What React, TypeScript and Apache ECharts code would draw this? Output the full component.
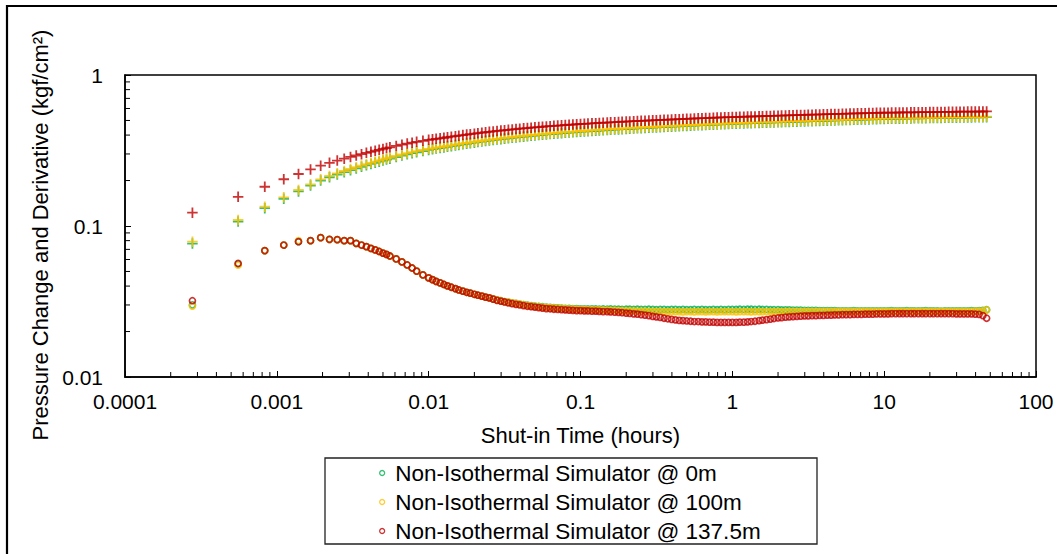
import React, { useEffect, useRef } from 'react';
import * as echarts from 'echarts';

const FONT = "'Liberation Sans', Arial, Helvetica, sans-serif";
const COLORS = ['#00B050', '#FFC000', '#C00000'];
const SERIES_NAMES = [
  'Non-Isothermal Simulator @ 0m',
  'Non-Isothermal Simulator @ 100m',
  'Non-Isothermal Simulator @ 137.5m',
];
const X_TICK_LABELS = ['0.0001', '0.001', '0.01', '0.1', '1', '10', '100'];
const Y_TICK_LABELS = ['0.01', '0.1', '1'];
const X_MIN = 0.0001;
const X_MAX = 100;
const Y_MIN = 0.01;
const Y_MAX = 1;

// Shut-in time (hours)
const TIME_H = [
  // 1 s ... 36 s
  0.000278, 0.000556, 0.000833, 0.001111, 0.001389, 0.001667, 0.001944, 0.002222, 0.0025, 0.002778,
  0.003056, 0.003333, 0.003611, 0.003889, 0.004167, 0.004444, 0.004722, 0.005, 0.005278, 0.005556,
  0.006111, 0.006667, 0.007222, 0.007778, 0.008333, 0.009167, 0.01,
  // 0.01 - 0.1 h
  0.0106, 0.0112, 0.0119, 0.0126, 0.0133, 0.0141, 0.015, 0.0158, 0.0168, 0.0178, 0.0188, 0.02, 0.0211,
  0.0224, 0.0237, 0.0251, 0.0266, 0.0282, 0.0299, 0.0316, 0.0335, 0.0355, 0.0376, 0.0398, 0.0422, 0.0447,
  0.0473, 0.0501, 0.0531, 0.0562, 0.0596, 0.0631, 0.0668, 0.0708, 0.075, 0.0794, 0.0841, 0.0891, 0.0944,
  // 0.1 - 1 h
  0.1, 0.106, 0.112, 0.119, 0.126, 0.133, 0.141, 0.15, 0.158, 0.168, 0.178, 0.188, 0.2, 0.211, 0.224,
  0.237, 0.251, 0.266, 0.282, 0.299, 0.316, 0.335, 0.355, 0.376, 0.398, 0.422, 0.447, 0.473, 0.501, 0.531,
  0.562, 0.596, 0.631, 0.668, 0.708, 0.75, 0.794, 0.841, 0.891, 0.944,
  // 1 - 10 h
  1, 1.06, 1.12, 1.19, 1.26, 1.33, 1.41, 1.5, 1.58, 1.68, 1.78, 1.88, 2, 2.11, 2.24,
  2.37, 2.51, 2.66, 2.82, 2.99, 3.16, 3.35, 3.55, 3.76, 3.98, 4.22, 4.47, 4.73, 5.01, 5.31,
  5.62, 5.96, 6.31, 6.68, 7.08, 7.5, 7.94, 8.41, 8.91, 9.44,
  // 10 - 48 h
  10, 10.6, 11.2, 11.9, 12.6, 13.3, 14.1, 15, 15.8, 16.8, 17.8, 18.8, 20, 21.1, 22.4,
  23.7, 25.1, 26.6, 28.2, 29.9, 31.6, 33.5, 35.5, 37.6, 39.8, 42.2, 44.7, 47.3,
];

// Pressure change (kgf/cm2)
const DP_0M = [
  0.0765, 0.107, 0.1312, 0.1515, 0.1695, 0.1852, 0.2, 0.2103, 0.2193, 0.2271,
  0.2342, 0.2407, 0.2467, 0.2524, 0.2575, 0.2623, 0.2668, 0.2713, 0.2755, 0.2793,
  0.2862, 0.2925, 0.2983, 0.3035, 0.3078, 0.3134, 0.3188,
  0.3225, 0.3255, 0.3285, 0.3315, 0.3346, 0.3378, 0.341, 0.3442, 0.3475, 0.3506, 0.3534, 0.3565, 0.3596,
  0.3625, 0.3652, 0.3679, 0.3707, 0.3735, 0.3761, 0.3785, 0.3809, 0.3838, 0.3862, 0.3885, 0.3907, 0.3929,
  0.3953, 0.3976, 0.3998, 0.4018, 0.4038, 0.406, 0.408, 0.4099, 0.4118, 0.4139, 0.4158, 0.4174, 0.4193,
  0.4211, 0.4227, 0.4242, 0.4258, 0.4273, 0.4288, 0.4303, 0.4318, 0.4333, 0.4348, 0.4362, 0.4376, 0.439,
  0.4404, 0.4418, 0.4432, 0.4446, 0.4459, 0.4472, 0.4485, 0.4498, 0.4511, 0.4524, 0.4537, 0.455, 0.4563,
  0.4576, 0.4589, 0.4602, 0.4615, 0.4627, 0.4639, 0.4651, 0.4663, 0.4675, 0.4687, 0.4699, 0.4711, 0.4723, 0.4735,
  0.4747, 0.4757, 0.4767, 0.4777, 0.4787, 0.4797, 0.4806, 0.4816, 0.4825, 0.4835, 0.4844, 0.4854, 0.4863,
  0.4873, 0.4882, 0.4892, 0.4901, 0.4911, 0.492, 0.4929, 0.4938, 0.4948, 0.4957, 0.4966, 0.4975, 0.4984,
  0.4993, 0.5002, 0.5011, 0.502, 0.5029, 0.5038, 0.5047, 0.5056, 0.5065, 0.5074, 0.5083, 0.5092, 0.5101, 0.511,
  0.5119, 0.5125, 0.513, 0.5135, 0.5141, 0.5146, 0.5151, 0.5157, 0.5162, 0.5167, 0.5172, 0.5177, 0.5182, 0.5187,
  0.5192, 0.5197, 0.5202, 0.5207, 0.5212, 0.5217, 0.5222, 0.5227, 0.5232, 0.5237, 0.5242, 0.5247, 0.5252, 0.5257,
];
const DP_100M = [
  0.0787, 0.1096, 0.1342, 0.1549, 0.1731, 0.1889, 0.2039, 0.2143, 0.2234, 0.2313,
  0.2385, 0.2451, 0.2512, 0.257, 0.2621, 0.267, 0.2715, 0.2761, 0.2803, 0.2842,
  0.2912, 0.2975, 0.3034, 0.3086, 0.3129, 0.3186, 0.324,
  0.327, 0.33, 0.333, 0.336, 0.3391, 0.3423, 0.3455, 0.3487, 0.352, 0.3551, 0.3579, 0.361, 0.3641,
  0.367, 0.3697, 0.3724, 0.3752, 0.378, 0.3806, 0.383, 0.3854, 0.3883, 0.3907, 0.393, 0.3952, 0.3974,
  0.3998, 0.4021, 0.4043, 0.4063, 0.4083, 0.4105, 0.4125, 0.4144, 0.4163, 0.4184, 0.4203, 0.4219, 0.4238,
  0.4256, 0.4272, 0.4287, 0.4303, 0.4318, 0.4333, 0.4348, 0.4363, 0.4378, 0.4393, 0.4407, 0.4421, 0.4435,
  0.4449, 0.4463, 0.4477, 0.4491, 0.4504, 0.4517, 0.453, 0.4543, 0.4556, 0.4569, 0.4582, 0.4595, 0.4608,
  0.4621, 0.4634, 0.4647, 0.466, 0.4672, 0.4684, 0.4696, 0.4708, 0.472, 0.4732, 0.4744, 0.4756, 0.4768, 0.478,
  0.4792, 0.4802, 0.4812, 0.4822, 0.4832, 0.4842, 0.4851, 0.4861, 0.487, 0.488, 0.4889, 0.4899, 0.4908,
  0.4918, 0.4927, 0.4937, 0.4946, 0.4956, 0.4965, 0.4974, 0.4983, 0.4993, 0.5002, 0.5011, 0.502, 0.5029,
  0.5038, 0.5047, 0.5056, 0.5065, 0.5074, 0.5083, 0.5092, 0.5101, 0.511, 0.5119, 0.5128, 0.5137, 0.5146, 0.5155,
  0.5164, 0.517, 0.5175, 0.518, 0.5186, 0.5191, 0.5196, 0.5202, 0.5207, 0.5212, 0.5217, 0.5222, 0.5227, 0.5232,
  0.5237, 0.5242, 0.5247, 0.5252, 0.5257, 0.5262, 0.5267, 0.5272, 0.5277, 0.5282, 0.5287, 0.5292, 0.5297, 0.5302,
];
const DP_137M = [
  0.1225, 0.156, 0.182, 0.204, 0.221, 0.237, 0.251, 0.262, 0.271, 0.279,
  0.2865, 0.293, 0.299, 0.305, 0.31, 0.315, 0.3195, 0.324, 0.328, 0.332,
  0.339, 0.3455, 0.3515, 0.3565, 0.361, 0.3665, 0.372,
  0.375, 0.378, 0.381, 0.384, 0.3871, 0.3903, 0.3935, 0.3967, 0.4, 0.4031, 0.4059, 0.409, 0.4121,
  0.415, 0.4177, 0.4204, 0.4232, 0.426, 0.4286, 0.431, 0.4334, 0.4363, 0.4387, 0.441, 0.4432, 0.4454,
  0.4478, 0.4501, 0.4523, 0.4543, 0.4563, 0.4585, 0.4605, 0.4624, 0.4643, 0.4664, 0.4683, 0.4699, 0.4718,
  0.4736, 0.4752, 0.4767, 0.4783, 0.4798, 0.4813, 0.4828, 0.4843, 0.4858, 0.4873, 0.4887, 0.4901, 0.4915,
  0.4929, 0.4943, 0.4957, 0.4971, 0.4984, 0.4997, 0.501, 0.5023, 0.5036, 0.5049, 0.5062, 0.5075, 0.5088,
  0.5101, 0.5114, 0.5127, 0.514, 0.5152, 0.5164, 0.5176, 0.5188, 0.52, 0.5212, 0.5224, 0.5236, 0.5248, 0.526,
  0.5262, 0.5272, 0.5282, 0.5292, 0.5302, 0.5312, 0.5321, 0.5331, 0.534, 0.535, 0.5359, 0.5369, 0.5378,
  0.5388, 0.5397, 0.5407, 0.5416, 0.5426, 0.5435, 0.5444, 0.5453, 0.5463, 0.5472, 0.5481, 0.549, 0.5499,
  0.5508, 0.5517, 0.5526, 0.5535, 0.5544, 0.5553, 0.5562, 0.5571, 0.558, 0.5589, 0.5598, 0.5607, 0.5616, 0.5625,
  0.5624, 0.563, 0.5635, 0.564, 0.5645, 0.565, 0.5655, 0.566, 0.5664, 0.5669, 0.5673, 0.5677, 0.5681, 0.5685,
  0.5689, 0.5693, 0.5697, 0.5701, 0.5705, 0.5709, 0.5713, 0.5717, 0.5721, 0.5724, 0.5727, 0.573, 0.5733, 0.5736,
];

// Pressure derivative (kgf/cm2)
const DER_0M = [
  0.03, 0.056, 0.0687, 0.0748, 0.0787, 0.08, 0.0837, 0.0816, 0.0812, 0.08,
  0.08, 0.0768, 0.0748, 0.073, 0.0711, 0.0694, 0.0678, 0.0662, 0.0648, 0.0633,
  0.0605, 0.0578, 0.0552, 0.0527, 0.0503, 0.0474, 0.0453,
  0.0441, 0.043, 0.042, 0.041, 0.0401, 0.0393, 0.0385, 0.0377, 0.037, 0.0364, 0.0359, 0.0353, 0.0348,
  0.0343, 0.0338, 0.0334, 0.0329, 0.0324, 0.032, 0.0316, 0.0313, 0.031, 0.0307, 0.0304, 0.0302, 0.0299,
  0.0297, 0.0295, 0.0293, 0.0292, 0.029, 0.0289, 0.0288, 0.0287, 0.0286, 0.0285, 0.0285, 0.0284, 0.0284,
  0.0283, 0.0283, 0.0282, 0.0283, 0.0282, 0.0281, 0.0282, 0.0281, 0.0282, 0.0281, 0.0281, 0.028, 0.0281,
  0.0281, 0.028, 0.0281, 0.028, 0.028, 0.0281, 0.028, 0.0279, 0.028, 0.028, 0.0279, 0.028, 0.028,
  0.0279, 0.028, 0.0279, 0.0279, 0.028, 0.0279, 0.028, 0.0279, 0.0279, 0.028, 0.0279, 0.028, 0.0279, 0.028,
  0.028, 0.028, 0.0281, 0.028, 0.0281, 0.0281, 0.028, 0.0281, 0.028, 0.028, 0.0279, 0.0279, 0.0279,
  0.0278, 0.0278, 0.0278, 0.0277, 0.0277, 0.0277, 0.0276, 0.0276, 0.0276, 0.0276, 0.0275, 0.0275, 0.0275,
  0.0275, 0.0275, 0.0274, 0.0274, 0.0274, 0.0274, 0.0275, 0.0274, 0.0274, 0.0274, 0.0274, 0.0274, 0.0274, 0.0274,
  0.0274, 0.0274, 0.0275, 0.0274, 0.0274, 0.0274, 0.0275, 0.0274, 0.0274, 0.0274, 0.0274, 0.0275, 0.0274, 0.0274,
  0.0274, 0.0273, 0.0274, 0.0274, 0.0274, 0.0274, 0.0274, 0.0274, 0.0274, 0.0275, 0.0274, 0.0275, 0.0276, 0.0279,
];
const DER_100M = [
  0.0295, 0.055, 0.0687, 0.0748, 0.08, 0.08, 0.0837, 0.0816, 0.0812, 0.08,
  0.08, 0.0768, 0.0748, 0.073, 0.0711, 0.0694, 0.0678, 0.0662, 0.0648, 0.0633,
  0.0605, 0.0578, 0.0552, 0.0527, 0.0503, 0.0474, 0.0453,
  0.0441, 0.043, 0.042, 0.041, 0.0401, 0.0393, 0.0385, 0.0377, 0.037, 0.0364, 0.0359, 0.0353, 0.0348,
  0.0343, 0.0338, 0.0334, 0.0329, 0.0324, 0.032, 0.0316, 0.0313, 0.031, 0.0307, 0.0304, 0.0301, 0.0298,
  0.0296, 0.0294, 0.0292, 0.029, 0.0289, 0.0288, 0.0287, 0.0286, 0.0285, 0.0284, 0.0283, 0.0282, 0.0281,
  0.028, 0.028, 0.0279, 0.0279, 0.0278, 0.0278, 0.0277, 0.0277, 0.0276, 0.0276, 0.0275, 0.0275, 0.0274,
  0.0274, 0.0274, 0.0273, 0.0273, 0.0273, 0.0272, 0.0272, 0.0272, 0.0272, 0.0271, 0.0271, 0.0271, 0.0271,
  0.0271, 0.027, 0.0271, 0.0271, 0.027, 0.0271, 0.0271, 0.027, 0.0271, 0.0271, 0.027, 0.0271, 0.0271, 0.0271,
  0.0271, 0.027, 0.0271, 0.0271, 0.0271, 0.027, 0.0271, 0.0271, 0.0271, 0.0271, 0.0271, 0.0271, 0.0272,
  0.0271, 0.0272, 0.0272, 0.0272, 0.0272, 0.0272, 0.0272, 0.0272, 0.0272, 0.0272, 0.0272, 0.0272, 0.0272,
  0.0272, 0.0272, 0.0272, 0.0272, 0.0272, 0.0272, 0.0272, 0.0272, 0.0272, 0.0272, 0.0272, 0.0272, 0.0272, 0.0272,
  0.0272, 0.0272, 0.0272, 0.0272, 0.0272, 0.0272, 0.0272, 0.0272, 0.0272, 0.0272, 0.0272, 0.0272, 0.0272, 0.0272,
  0.0272, 0.0272, 0.0272, 0.0272, 0.0272, 0.0272, 0.0272, 0.0272, 0.0272, 0.0272, 0.0273, 0.0273, 0.0274, 0.0278,
];
const DER_137M = [
  0.032, 0.0565, 0.0687, 0.0748, 0.0787, 0.08, 0.0837, 0.0816, 0.0812, 0.08,
  0.08, 0.0768, 0.0748, 0.073, 0.0711, 0.0694, 0.0678, 0.0662, 0.0648, 0.0633,
  0.0605, 0.0578, 0.0552, 0.0527, 0.0503, 0.0474, 0.0453,
  0.0441, 0.043, 0.042, 0.041, 0.0401, 0.0393, 0.0385, 0.0377, 0.037, 0.0364, 0.0359, 0.0353, 0.0348,
  0.0343, 0.0338, 0.0334, 0.0328, 0.0322, 0.0318, 0.0314, 0.031, 0.0306, 0.0303, 0.03, 0.0297, 0.0294,
  0.0292, 0.029, 0.0288, 0.0286, 0.0284, 0.0283, 0.0281, 0.028, 0.0279, 0.0278, 0.0277, 0.0276, 0.0275,
  0.0275, 0.0274, 0.0274, 0.0273, 0.0273, 0.0272, 0.0271, 0.0271, 0.027, 0.0269, 0.0268, 0.0267, 0.0265,
  0.0264, 0.0262, 0.0261, 0.0259, 0.0257, 0.0255, 0.0252, 0.025, 0.0248, 0.0245, 0.0243, 0.0241, 0.0239,
  0.0237, 0.0236, 0.0235, 0.0234, 0.0233, 0.0233, 0.0232, 0.0232, 0.0231, 0.0231, 0.023, 0.023, 0.023, 0.023,
  0.023, 0.023, 0.0231, 0.0231, 0.0232, 0.0233, 0.0234, 0.0236, 0.0238, 0.024, 0.0242, 0.0244, 0.0246,
  0.0247, 0.0249, 0.025, 0.0251, 0.0252, 0.0253, 0.0254, 0.0254, 0.0255, 0.0255, 0.0256, 0.0256, 0.0257,
  0.0257, 0.0258, 0.0258, 0.0259, 0.0259, 0.0259, 0.026, 0.026, 0.026, 0.0261, 0.0261, 0.0261, 0.0262, 0.0262,
  0.0262, 0.0262, 0.0263, 0.0263, 0.0263, 0.0263, 0.0263, 0.0263, 0.0263, 0.0263, 0.0263, 0.0263, 0.0263, 0.0263,
  0.0263, 0.0263, 0.0263, 0.0263, 0.0263, 0.0262, 0.0262, 0.0262, 0.0262, 0.0262, 0.0261, 0.026, 0.0255, 0.0245,
];

const DP_SERIES = [DP_0M, DP_100M, DP_137M];
const DER_SERIES = [DER_0M, DER_100M, DER_137M];

const MINOR_MULTS = [2, 3, 4, 5, 6, 7, 8, 9];
const X_DECADES = [0.0001, 0.001, 0.01, 0.1, 1, 10];
const Y_DECADES = [0.01, 0.1];

const CROSS = 'path://M0,5L10,5M5,0L5,10';

function buildOption() {
  const xMinor: number[][] = [];
  X_DECADES.forEach((d) => MINOR_MULTS.forEach((m) => xMinor.push([d * m, Y_MIN])));
  const yMinor: number[][] = [];
  Y_DECADES.forEach((d) => MINOR_MULTS.forEach((m) => yMinor.push([X_MIN, d * m])));

  const tickSeries = (data: number[][], horizontal: boolean) => ({
    type: 'custom',
    coordinateSystem: 'cartesian2d',
    silent: true,
    clip: false,
    z: 5,
    data,
    renderItem: (_p: any, api: any) => {
      const c = api.coord([api.value(0), api.value(1)]);
      return {
        type: 'line',
        shape: horizontal
          ? { x1: c[0], y1: c[1], x2: c[0] + 5, y2: c[1] }
          : { x1: c[0], y1: c[1], x2: c[0], y2: c[1] - 5 },
        style: { stroke: '#000', lineWidth: 1 },
      };
    },
  });

  const series: any[] = [];
  DP_SERIES.forEach((arr, i) => {
    series.push({
      type: 'scatter',
      name: 'dp-' + i,
      symbol: CROSS,
      symbolSize: 10.5,
      itemStyle: { color: 'rgba(0,0,0,0)', borderColor: COLORS[i], borderWidth: 1.8 },
      data: TIME_H.map((t, k) => [t, arr[k]]),
      z: 2,
    });
  });
  DER_SERIES.forEach((arr, i) => {
    series.push({
      type: 'scatter',
      name: SERIES_NAMES[i],
      symbol: 'circle',
      symbolSize: 6,
      itemStyle: { color: 'rgba(0,0,0,0)', borderColor: COLORS[i], borderWidth: 1.7 },
      data: TIME_H.map((t, k) => [t, arr[k]]),
      z: 2,
    });
  });
  series.push(tickSeries(xMinor, false));
  series.push(tickSeries(yMinor, true));

  return {
    animation: false,
    backgroundColor: '#fff',
    grid: {
      left: 125,
      right: 21,
      top: 75,
      bottom: 177,
      show: true,
      borderColor: '#000',
      borderWidth: 1.5,
      backgroundColor: 'transparent',
    },
    xAxis: {
      type: 'log',
      logBase: 10,
      min: X_MIN,
      max: X_MAX,
      splitNumber: 6,
      name: 'Shut-in Time (hours)',
      nameLocation: 'middle',
      nameGap: 47,
      nameTextStyle: { fontSize: 22, fontFamily: FONT, color: '#000' },
      axisLine: { show: true, lineStyle: { color: '#000', width: 1.5 } },
      axisTick: { show: true, inside: true, length: 6, lineStyle: { color: '#000', width: 1 } },
      axisLabel: {
        fontSize: 21,
        fontFamily: FONT,
        color: '#000',
        margin: 14,
        showMinLabel: true,
        showMaxLabel: true,
        formatter: (v: number) => X_TICK_LABELS[Math.round(Math.log10(v)) + 4] ?? '',
      },
      splitLine: { show: false },
      minorTick: { show: false },
    },
    yAxis: {
      type: 'log',
      logBase: 10,
      min: Y_MIN,
      max: Y_MAX,
      splitNumber: 2,
      name: 'Pressure Change and Derivative (kgf/cm²)',
      nameLocation: 'middle',
      nameGap: 73,
      nameTextStyle: { fontSize: 22, fontFamily: FONT, color: '#000', padding: [0, 18, 0, 0] },
      axisLine: { show: true, lineStyle: { color: '#000', width: 1.5 } },
      axisTick: { show: true, inside: true, length: 6, lineStyle: { color: '#000', width: 1 } },
      axisLabel: {
        fontSize: 21,
        fontFamily: FONT,
        color: '#000',
        margin: 22,
        showMinLabel: true,
        showMaxLabel: true,
        formatter: (v: number) => Y_TICK_LABELS[Math.round(Math.log10(v)) + 2] ?? '',
      },
      splitLine: { show: false },
      minorTick: { show: false },
    },
    legend: {
      data: SERIES_NAMES.map((n, i) => ({
        name: n,
        icon: 'circle',
        itemStyle: { color: 'rgba(0,0,0,0)', borderColor: COLORS[i], borderWidth: 1.3 },
      })),
      orient: 'vertical',
      left: 379,
      top: 461,
      itemWidth: 16,
      itemHeight: 5,
      itemGap: 5,
      padding: 0,
      selectedMode: false,
      textStyle: { fontSize: 22.5, fontFamily: FONT, color: '#000', lineHeight: 24 },
    },
    graphic: [
      {
        type: 'rect',
        silent: true,
        z: -10,
        shape: { x: 7, y: 6, width: 1060, height: 600 },
        style: { fill: 'none', stroke: '#000', lineWidth: 2.2 },
      },
      {
        type: 'rect',
        silent: true,
        shape: { x: 325, y: 458, width: 492, height: 86 },
        style: { fill: 'none', stroke: '#222', lineWidth: 1.3 },
      },
    ],
    series,
  };
}

export default function App() {
  const ref = useRef<HTMLDivElement>(null);
  useEffect(() => {
    if (!ref.current) return;
    const chart = echarts.init(ref.current, null, { renderer: 'svg' });
    chart.setOption(buildOption() as any);
    return () => chart.dispose();
  }, []);
  return (
    <div
      ref={ref}
      style={{ position: 'fixed', left: 0, top: 0, width: 1057, height: 554, background: '#fff' }}
    />
  );
}
